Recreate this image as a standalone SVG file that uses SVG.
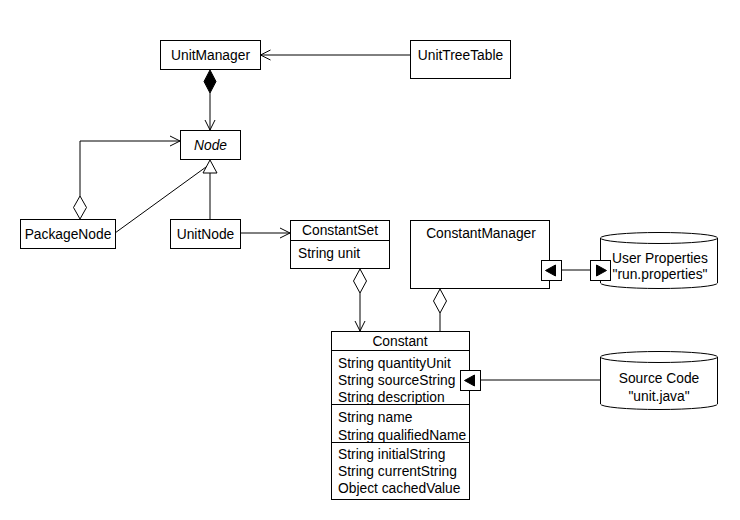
<svg xmlns="http://www.w3.org/2000/svg" width="740" height="520" viewBox="0 0 740 520">
  <style>
    .box { fill: #fff; stroke: #000; stroke-width: 1; }
    .ln { fill: none; stroke: #000; stroke-width: 1; }
    .t { font-family: "Liberation Sans", Arial, sans-serif; font-size: 13.8px; fill: #000; }
    .c { text-anchor: middle; }
    .hollow { fill: #fff; stroke: #000; stroke-width: 1; }
    .solid { fill: #000; stroke: #000; stroke-width: 1; }
  </style>
  <defs>
    <marker id="open" viewBox="0 0 12 12" refX="11" refY="6" markerWidth="12" markerHeight="12" markerUnits="userSpaceOnUse" orient="auto">
      <path d="M1,1 L11,6 L1,11" fill="none" stroke="#000" stroke-width="1"/>
    </marker>
  </defs>
  <rect width="740" height="520" fill="#fff"/>

  <!-- connectors -->
  <g id="connectors">
    <!-- UnitTreeTable -> UnitManager -->
    <line class="ln" x1="410" y1="55" x2="260.5" y2="55" marker-end="url(#open)"/>
    <!-- UnitManager composition -> Node -->
    <line class="ln" x1="210" y1="93" x2="210" y2="130" marker-end="url(#open)"/>
    <polygon class="solid" points="210,70 216,81.5 210,93 204,81.5"/>
    <!-- PackageNode aggregation -> Node -->
    <polyline class="ln" points="80,196 80,141 180,141" marker-end="url(#open)"/>
    <polygon class="hollow" points="80,219 86.5,207.5 80,196 73.5,207.5"/>
    <!-- generalization to Node -->
    <line class="ln" x1="115" y1="233" x2="206" y2="167"/>
    <line class="ln" x1="210" y1="219" x2="210" y2="173"/>
    <polygon class="hollow" points="210,160 217,173 203,173"/>
    <!-- UnitNode -> ConstantSet -->
    <line class="ln" x1="240" y1="233" x2="290" y2="233" marker-end="url(#open)"/>
    <!-- ConstantSet aggregation -> Constant -->
    <line class="ln" x1="360" y1="293" x2="360" y2="331" marker-end="url(#open)"/>
    <polygon class="hollow" points="360,269 366.5,281 360,293 353.5,281"/>
    <!-- ConstantManager aggregation - Constant -->
    <line class="ln" x1="440" y1="313" x2="440" y2="331"/>
    <polygon class="hollow" points="440,289 446.5,301 440,313 433.5,301"/>
    <!-- ConstantManager port <-> User Properties port -->
    <line class="ln" x1="561" y1="270" x2="590" y2="270"/>
    <!-- Constant port - Source Code -->
    <line class="ln" x1="481" y1="380" x2="600" y2="380"/>
  </g>

  <g id="UnitManager">
    <rect class="box" x="160.5" y="40.5" width="100" height="29"/>
    <text class="t c" x="210.5" y="60">UnitManager</text>
  </g>

  <g id="UnitTreeTable">
    <rect class="box" x="410.5" y="40.5" width="100" height="38"/>
    <text class="t c" x="460.5" y="60">UnitTreeTable</text>
  </g>

  <g id="Node">
    <rect class="box" x="180.5" y="130.5" width="60" height="29"/>
    <text class="t c" x="210.5" y="150" font-style="italic">Node</text>
  </g>

  <g id="PackageNode">
    <rect class="box" x="20.5" y="219.5" width="95" height="29"/>
    <text class="t c" x="68" y="239">PackageNode</text>
  </g>

  <g id="UnitNode">
    <rect class="box" x="170.5" y="219.5" width="70" height="29"/>
    <text class="t c" x="205.5" y="239">UnitNode</text>
  </g>

  <g id="ConstantSet">
    <rect class="box" x="290.5" y="220.5" width="99" height="48"/>
    <line class="ln" x1="290.5" y1="240.5" x2="389.5" y2="240.5"/>
    <text class="t c" x="340" y="235">ConstantSet</text>
    <text class="t" x="298" y="258">String unit</text>
  </g>

  <g id="ConstantManager">
    <rect class="box" x="410.5" y="220.5" width="139" height="68"/>
    <text class="t c" x="481" y="238">ConstantManager</text>
    <rect class="box" x="541.5" y="260.5" width="20" height="20"/>
    <polygon class="solid" points="545.5,270.5 555.5,265 555.5,276"/>
  </g>

  <g id="UserProperties">
    <path class="box" d="M600.5,238 A58.5,5.5 0 0 1 717.5,238 L717.5,283 A58.5,5.5 0 0 1 600.5,283 Z"/>
    <path class="ln" d="M600.5,238 A58.5,5.5 0 0 0 717.5,238"/>
    <text class="t c" x="660" y="263">User Properties</text>
    <text class="t c" x="660" y="279">"run.properties"</text>
    <rect class="box" x="590.5" y="260.5" width="20" height="20"/>
    <polygon class="solid" points="606.5,270.5 596.5,265 596.5,276"/>
  </g>

  <g id="Constant">
    <rect class="box" x="331.5" y="331.5" width="138" height="168"/>
    <line class="ln" x1="331.5" y1="350.5" x2="469.5" y2="350.5"/>
    <line class="ln" x1="331.5" y1="404.5" x2="469.5" y2="404.5"/>
    <line class="ln" x1="331.5" y1="442.5" x2="469.5" y2="442.5"/>
    <text class="t c" x="400" y="346">Constant</text>
    <text class="t" x="338" y="368">String quantityUnit</text>
    <text class="t" x="338" y="385">String sourceString</text>
    <text class="t" x="338" y="402">String description</text>
    <text class="t" x="338" y="422">String name</text>
    <text class="t" x="338" y="440">String qualifiedName</text>
    <text class="t" x="338" y="459">String initialString</text>
    <text class="t" x="338" y="476">String currentString</text>
    <text class="t" x="338" y="493">Object cachedValue</text>
    <rect class="box" x="460.5" y="370.5" width="20" height="20"/>
    <polygon class="solid" points="464.5,380.5 474.5,375 474.5,386"/>
  </g>

  <g id="SourceCode">
    <path class="box" d="M600.5,357 A58.5,5.5 0 0 1 717.5,357 L717.5,404 A58.5,5.5 0 0 1 600.5,404 Z"/>
    <path class="ln" d="M600.5,357 A58.5,5.5 0 0 0 717.5,357"/>
    <text class="t c" x="659" y="383">Source Code</text>
    <text class="t c" x="659" y="401">"unit.java"</text>
  </g>
</svg>
